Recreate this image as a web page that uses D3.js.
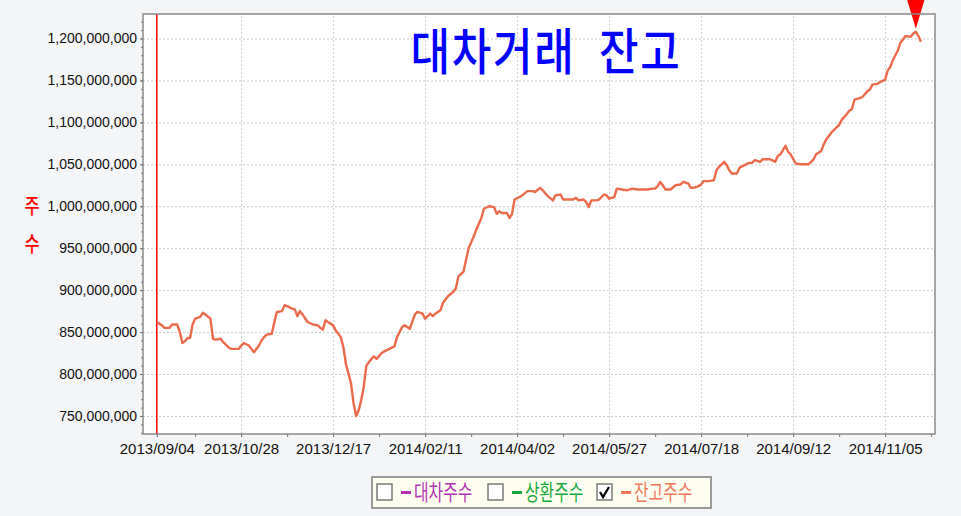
<!DOCTYPE html>
<html>
<head>
<meta charset="utf-8">
<script src="https://cdn.jsdelivr.net/npm/d3@7"></script>
<style>
  html, body { margin: 0; padding: 0; background: #f4f5f7; }
  svg { display: block; }
</style>
</head>
<body>
<svg id="chart" width="961" height="516"></svg>
<script>
// trading day index since 2013/09/04 and balance (millions of shares)
const dayIdx = [0,2,3,5,6,8,9,10,11,12,13,14,15,17,18,19,21,22,23,25,26,28,29,32,34,36,37,38,40,41,42,43,45,46,47,49,
  50,51,53,54,55,56,57,59,61,63,64,65,66,67,69,70,72,73,74,76,77,78,79,80,81,82,83,84,85,86,88,89,91,93,94,96,97,99,
  101,102,104,105,107,108,109,111,112,114,116,117,118,120,121,122,124,125,127,128,130,132,133,134,135,137,138,139,140,142,143,145,147,148,150,151,
  153,155,156,158,159,161,163,164,165,167,168,169,170,172,173,175,176,177,179,180,182,184,186,188,190,192,194,195,196,197,198,199,
  201,203,205,206,208,209,210,212,213,214,216,218,219,220,222,223,224,225,227,228,230,231,233,234,236,237,238,240,242,243,244,246,247,248,
  250,252,253,255,257,258,260,261,262,264,265,267,268,270,271,272,273,275,276,278,279,280,282,283,285,286,287,288,290,291,293,295,296,297,298,299]
const balance = [862,858,855,855,859,859,850,837,839,843,843,859,866,868,873,871,866,842,841,842,838,832,830,830,837,834,830,826,834,840,844,847,848,862,874,875,
  882,881,878,877,869,875,871,862,859,858,855,853,864,862,858,852,844,832,812,789,765,750,757,769,785,810,814,818,821,818,825,827,830,833,844,856,858,854,
  871,874,872,866,872,869,872,876,885,893,898,902,916,922,936,950,964,972,986,997,1000,999,991,994,992,992,986,991,1008,1011,1013,1018,1018,1017,1022,1019,
  1012,1007,1013,1014,1008,1008,1008,1010,1007,1008,1005,999,1007,1007,1008,1014,1013,1009,1011,1021,1020,1019,1021,1020,1020,1020,1021,1021,1024,1029,1025,1020,
  1020,1025,1026,1029,1027,1022,1022,1024,1026,1030,1030,1031,1043,1047,1053,1049,1043,1039,1039,1046,1049,1051,1052,1055,1053,1056,1056,1056,1053,1060,1062,1072,1065,1062,
  1051,1050,1050,1050,1056,1062,1066,1074,1080,1088,1091,1097,1103,1110,1114,1116,1127,1129,1130,1137,1139,1145,1146,1148,1151,1162,1166,1174,1186,1195,1203,1202,1206,1208,1203,1196]

const xTickIdx = [0, 33, 69, 105, 141, 177, 213, 249, 285]
const xTickLabels = ['2013/09/04', '2013/10/28', '2013/12/17', '2014/02/11', '2014/04/02',
  '2014/05/27', '2014/07/18', '2014/09/12', '2014/11/05']
const yTicks = [750e6, 800e6, 850e6, 900e6, 950e6, 1000e6, 1050e6, 1100e6, 1150e6, 1200e6]

const title = '대차거래 잔고'
const yTitle = ['주', '수']
const legendNames = ['대차주수', '상환주수', '잔고주수']
const legendColors = ['#b232b2', '#1aa83c', '#f0765a']
const legendChecked = [false, false, true]

const plotL = 143, plotR = 935, plotT = 14, plotB = 434
const lineColor = '#ec6a4c'
const numFont = '"Liberation Sans", Arial, sans-serif'
const krFont = '"Noto Sans CJK KR", sans-serif'

let svg = d3.select('#chart')

let xScale = d3.scaleLinear()
    .domain([-5.4, 304.5])
    .range([plotL, plotR])

let yScale = d3.scaleLinear()
    .domain([728.5e6, 1229.2e6])
    .range([plotB, plotT])

let data = dayIdx.map((d, i) => ({ day: d, value: balance[i] * 1e6 }))

// plot background
svg.append('rect')
    .attr('x', plotL).attr('y', plotT)
    .attr('width', plotR - plotL).attr('height', plotB - plotT)
    .attr('fill', '#fff')

// grid
svg.append('g')
    .attr('transform', `translate(${plotL},0)`)
    .call(d3.axisLeft(yScale).tickValues(yTicks).tickSize(-(plotR - plotL)).tickFormat(''))
    .call(g => g.select('.domain').remove())
    .selectAll('line')
    .attr('stroke', '#c9c9c9')
    .attr('stroke-dasharray', '2,2')

svg.append('g')
    .attr('transform', `translate(0,${plotB})`)
    .call(d3.axisBottom(xScale).tickValues(xTickIdx.slice(1)).tickSize(-(plotB - plotT)).tickFormat(''))
    .call(g => g.select('.domain').remove())
    .selectAll('line')
    .attr('stroke', '#c9c9c9')
    .attr('stroke-dasharray', '2,2')

// start marker
svg.append('line')
    .attr('x1', xScale(0)).attr('x2', xScale(0))
    .attr('y1', plotT).attr('y2', plotB)
    .attr('stroke', '#ff0000')
    .attr('stroke-width', 1.5)

// title
svg.append('text')
    .attr('transform', `translate(546,70) scale(0.86,1)`)
    .attr('text-anchor', 'middle')
    .attr('font-family', krFont)
    .attr('font-size', 50)
    .attr('font-weight', 500)
    .attr('letter-spacing', 2)
    .attr('word-spacing', 14)
    .attr('fill', '#0000ff')
    .text(title)

// balance line
let line = d3.line()
    .x(d => xScale(d.day))
    .y(d => yScale(d.value))

svg.append('path')
    .datum(data)
    .attr('fill', 'none')
    .attr('stroke', lineColor)
    .attr('stroke-width', 2.4)
    .attr('stroke-linejoin', 'round')
    .attr('d', line)

// max marker
let maxPt = data.reduce((a, b) => b.value > a.value ? b : a)
let mx = xScale(maxPt.day), my = yScale(maxPt.value) - 3
svg.append('path')
    .attr('d', `M${mx - 9},${my - 30}L${mx + 9},${my - 30}L${mx},${my}Z`)
    .attr('fill', '#ff0000')

// frame
svg.append('rect')
    .attr('x', plotL).attr('y', plotT)
    .attr('width', plotR - plotL).attr('height', plotB - plotT)
    .attr('fill', 'none')
    .attr('stroke', '#8a8a8a')
    .attr('stroke-width', 1.5)

// y axis
let yAxis = svg.append('g')
    .attr('transform', `translate(${plotL},0)`)
    .call(d3.axisLeft(yScale).tickValues(yTicks).tickSize(3).tickPadding(3).tickFormat(d3.format(',')))
yAxis.select('.domain').remove()
yAxis.selectAll('line').attr('stroke', '#666')
yAxis.selectAll('text')
    .attr('font-family', numFont)
    .attr('font-size', 14)
    .attr('fill', '#111')

let minorY = d3.range(730e6, 1230e6, 10e6)
svg.append('g')
    .attr('transform', `translate(${plotL},0)`)
    .call(d3.axisLeft(yScale).tickValues(minorY).tickSize(2).tickFormat(''))
    .call(g => g.select('.domain').remove())
    .selectAll('line').attr('stroke', '#777')

// x axis
let xAxis = svg.append('g')
    .attr('transform', `translate(0,${plotB})`)
    .call(d3.axisBottom(xScale).tickValues(xTickIdx).tickSize(3).tickPadding(6)
        .tickFormat((d, i) => xTickLabels[i]))
xAxis.select('.domain').remove()
xAxis.selectAll('line').attr('stroke', '#666')
xAxis.selectAll('text')
    .attr('font-family', numFont)
    .attr('font-size', 15)
    .attr('fill', '#111')

let minorX = xTickIdx.slice(1).map(d => d - 18).concat([303])
svg.append('g')
    .attr('transform', `translate(0,${plotB})`)
    .call(d3.axisBottom(xScale).tickValues(minorX).tickSize(3).tickFormat(''))
    .call(g => g.select('.domain').remove())
    .selectAll('line').attr('stroke', '#777')

// y title
yTitle.forEach((t, i) => {
    svg.append('text')
        .attr('transform', `translate(32,${213 + i * 38}) scale(0.78,1)`)
        .attr('text-anchor', 'middle')
        .attr('font-family', krFont)
        .attr('font-size', 21)
        .attr('font-weight', 500)
        .attr('fill', '#ff0000')
        .text(t)
})

// legend
let legend = svg.append('g')
legend.append('rect')
    .attr('x', 372).attr('y', 477)
    .attr('width', 339).attr('height', 31)
    .attr('fill', '#fefef0')
    .attr('stroke', '#9a9a9a')
    .attr('stroke-width', 2)

let legendX = [377, 488, 597]
legendNames.forEach((name, i) => {
    let x0 = legendX[i]
    legend.append('rect')
        .attr('x', x0).attr('y', 484)
        .attr('width', 15).attr('height', 16)
        .attr('fill', '#fff')
        .attr('stroke', '#7a7a7a')
        .attr('stroke-width', 1.5)
    if (legendChecked[i]) {
        legend.append('path')
            .attr('d', `M${x0 + 3},${492}L${x0 + 6},${497}L${x0 + 12},${487}`)
            .attr('fill', 'none')
            .attr('stroke', '#000')
            .attr('stroke-width', 2.2)
    }
    legend.append('rect')
        .attr('x', x0 + 24).attr('y', 491)
        .attr('width', 10).attr('height', 3)
        .attr('fill', legendColors[i])
    legend.append('text')
        .attr('transform', `translate(${x0 + 37},500) scale(0.72,1)`)
        .attr('font-family', krFont)
        .attr('font-size', 22)
        .attr('fill', legendColors[i])
        .text(name)
})
</script>
</body>
</html>
